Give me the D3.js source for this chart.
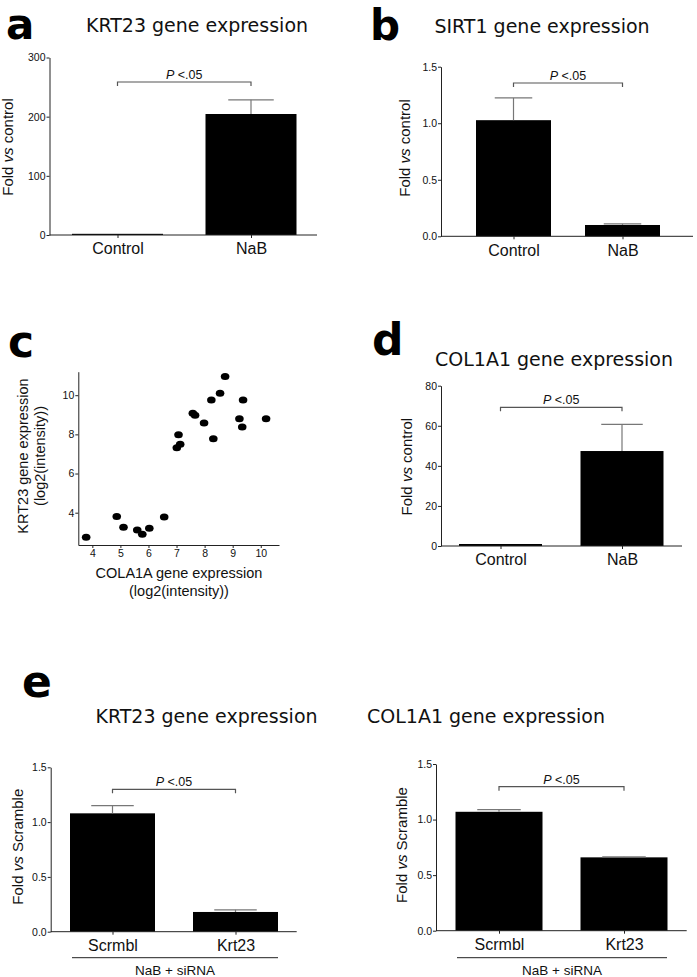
<!DOCTYPE html>
<html><head><meta charset="utf-8">
<script src="https://cdn.jsdelivr.net/npm/d3@7"></script>
<style>
html,body{margin:0;padding:0;background:#fff;}
svg text{font-family:"Liberation Sans",Arial,sans-serif;}
.title{font-family:"DejaVu Sans",Verdana,sans-serif !important;font-size:19px;fill:#111;}
.letter{font-family:"DejaVu Sans",Verdana,sans-serif !important;font-weight:bold;fill:#000;}
</style></head>
<body>
<svg id="fig" width="697" height="977"></svg>
<script>
// ---------- DATA ----------
const catsA = ["Control", "NaB"];
const valsA = [2, 204.5];
const errA = [0, 24];
const ticksA = [0, 100, 200, 300];

const catsB = ["Control", "NaB"];
const valsB = [1.027, 0.10];
const errB = [0.197, 0.01];
const ticksB = [0, 0.5, 1.0, 1.5];

const scatterX = [3.78, 4.87, 5.11, 5.60, 5.78, 6.03, 6.56, 7.01, 7.13, 7.07, 7.58, 7.66, 7.98, 8.31, 8.24, 8.55, 8.73, 9.24, 9.34, 9.37, 10.19];
const scatterY = [2.75, 3.80, 3.26, 3.12, 2.90, 3.21, 3.78, 7.32, 7.49, 7.98, 9.08, 8.97, 8.58, 7.78, 9.76, 10.10, 10.95, 8.80, 8.37, 9.76, 8.80];
const ticksCx = [4, 5, 6, 7, 8, 9, 10];
const ticksCy = [4, 6, 8, 10];

const catsD = ["Control", "NaB"];
const valsD = [1, 47.4];
const errD = [0, 13.3];
const ticksD = [0, 20, 40, 60, 80];

const catsE = ["Scrmbl", "Krt23"];
const valsE1 = [1.08, 0.18];
const errE1 = [0.07, 0.02];
const valsE2 = [1.07, 0.66];
const errE2 = [0.02, 0.005];
const ticksE = [0, 0.5, 1.0, 1.5];

// ---------- DRAW ----------
const svg = d3.select("#fig");
const AX = "#222", ERR = "#777", BR = "#555";

function barPanel(o) {
  const g = svg.append("g");
  const y = d3.scaleLinear().domain(o.domain).range([o.yBottom, o.yTop]);
  const x = d3.scalePoint().domain(o.cats).range(o.centers);
  // title
  g.append("text").attr("class", "title").attr("x", o.titleX).attr("y", o.titleY)
    .attr("text-anchor", "middle").text(o.title);
  // y axis
  const ya = g.append("g").attr("transform", `translate(${o.axisX},0)`)
    .call(d3.axisLeft(y).tickValues(o.ticks).tickSize(3).tickSizeOuter(0).tickPadding(1).tickFormat(o.fmt));
  ya.select(".domain").attr("stroke", AX);
  ya.selectAll(".tick line").attr("stroke", AX);
  ya.selectAll(".tick text").attr("font-size", 10.5).attr("fill", "#111").attr("font-family", "Liberation Sans");
  // bars
  const data = o.cats.map((c, i) => ({c, v: o.vals[i], e: o.errs[i]}));
  g.selectAll("rect.bar").data(data).enter().append("rect")
    .attr("x", d => x(d.c) - o.barW / 2).attr("width", o.barW)
    .attr("y", d => y(d.v)).attr("height", d => y(0) - y(d.v)).attr("fill", "#000");
  // error bars
  const eb = data.filter(d => d.e > 0);
  g.selectAll("line.ev").data(eb).enter().append("line")
    .attr("x1", d => x(d.c)).attr("x2", d => x(d.c)).attr("y1", d => y(d.v)).attr("y2", d => y(d.v + d.e))
    .attr("stroke", ERR).attr("stroke-width", 1.2);
  g.selectAll("line.ec").data(eb).enter().append("line")
    .attr("x1", d => x(d.c) - o.barW / 4).attr("x2", d => x(d.c) + o.barW / 4)
    .attr("y1", d => y(d.v + d.e)).attr("y2", d => y(d.v + d.e))
    .attr("stroke", ERR).attr("stroke-width", 1.2);
  // x axis
  g.append("line").attr("x1", o.axisX).attr("x2", o.xEnd).attr("y1", o.yBottom).attr("y2", o.yBottom)
    .attr("stroke", AX).attr("stroke-width", 1);
  const xa = g.append("g").attr("transform", `translate(0,${o.yBottom})`)
    .call(d3.axisBottom(x).tickSize(3).tickPadding(5));
  xa.select(".domain").remove();
  xa.selectAll(".tick line").attr("stroke", AX);
  xa.selectAll(".tick text").attr("font-size", 16).attr("fill", "#111").attr("font-family", "Liberation Sans");
  // bracket
  const [c0, c1] = o.cats.map(c => x(c));
  g.append("path").attr("d", `M${c0},${o.brY + 4}V${o.brY}H${c1}V${o.brY + 4}`)
    .attr("fill", "none").attr("stroke", BR).attr("stroke-width", 1.2);
  const pt = g.append("text").attr("x", (c0 + c1) / 2).attr("y", o.brY - 3)
    .attr("text-anchor", "middle").attr("font-size", 12.5).attr("fill", "#111");
  pt.append("tspan").attr("font-style", "italic").text("P");
  pt.append("tspan").text(" <.05");
  // y label
  const yl = g.append("text").attr("transform", `translate(${o.ylX},${o.ylY}) rotate(-90)`)
    .attr("text-anchor", "middle").attr("font-size", 15).attr("fill", "#111");
  yl.append("tspan").text("Fold ");
  yl.append("tspan").attr("font-style", "italic").text("vs");
  yl.append("tspan").text(" " + o.ylRest);
  // group underline
  if (o.group) {
    g.append("line").attr("x1", o.group.x1).attr("x2", o.group.x2).attr("y1", o.group.y).attr("y2", o.group.y)
      .attr("stroke", AX).attr("stroke-width", 1);
    g.append("text").attr("x", (o.group.x1 + o.group.x2) / 2).attr("y", o.group.y + 17)
      .attr("text-anchor", "middle").attr("font-size", 13.5).attr("fill", "#111").text(o.group.text);
  }
}

const f0 = d3.format("d"), f1 = d3.format(".1f");

barPanel({title: "KRT23 gene expression", titleX: 197, titleY: 32,
  cats: catsA, vals: valsA, errs: errA, ticks: ticksA, fmt: f0, domain: [0, 300],
  axisX: 49.5, xEnd: 317, yTop: 57.5, yBottom: 235, centers: [117.5, 251], barW: 91,
  brY: 82, ylX: 13, ylY: 147, ylRest: "control"});

barPanel({title: "SIRT1 gene expression", titleX: 542, titleY: 33,
  cats: catsB, vals: valsB, errs: errB, ticks: ticksB, fmt: f1, domain: [0, 1.5],
  axisX: 441, xEnd: 693, yTop: 66.7, yBottom: 236.3, centers: [513.5, 622.5], barW: 75,
  brY: 83, ylX: 410, ylY: 148, ylRest: "control"});

barPanel({title: "COL1A1 gene expression", titleX: 554, titleY: 366,
  cats: catsD, vals: valsD, errs: errD, ticks: ticksD, fmt: f0, domain: [0, 80],
  axisX: 441, xEnd: 682, yTop: 385.7, yBottom: 546, centers: [500.5, 622], barW: 83,
  brY: 407.3, ylX: 412, ylY: 466.7, ylRest: "control"});

barPanel({title: "KRT23 gene expression", titleX: 206.5, titleY: 723,
  cats: catsE, vals: valsE1, errs: errE1, ticks: ticksE, fmt: f1, domain: [0, 1.5],
  axisX: 50.7, xEnd: 296.7, yTop: 767.3, yBottom: 931.7, centers: [112.5, 235.5], barW: 85,
  brY: 789.3, ylX: 23, ylY: 846.7, ylRest: "Scramble",
  group: {x1: 72, x2: 278, y: 957.7, text: "NaB + siRNA"}});

barPanel({title: "COL1A1 gene expression", titleX: 486, titleY: 723,
  cats: catsE, vals: valsE2, errs: errE2, ticks: ticksE, fmt: f1, domain: [0, 1.5],
  axisX: 436, xEnd: 686.7, yTop: 764, yBottom: 930.7, centers: [499, 624], barW: 87,
  brY: 786.7, ylX: 407, ylY: 845, ylRest: "Scramble",
  group: {x1: 457, x2: 667, y: 957.7, text: "NaB + siRNA"}});

// scatter panel c
(function () {
  const g = svg.append("g");
  const x = d3.scaleLinear().domain([3.5, 10.65]).range([78.3, 279]);
  const y = d3.scaleLinear().domain([2.35, 11.2]).range([545, 371.7]);
  const ya = g.append("g").attr("transform", "translate(78.3,0)")
    .call(d3.axisLeft(y).tickValues(ticksCy).tickSize(3).tickSizeOuter(0).tickPadding(1));
  const xa = g.append("g").attr("transform", "translate(0,545)")
    .call(d3.axisBottom(x).tickValues(ticksCx).tickSize(3).tickSizeOuter(0).tickPadding(2));
  [ya, xa].forEach(a => {
    a.select(".domain").attr("stroke", AX);
    a.selectAll(".tick line").attr("stroke", AX);
    a.selectAll(".tick text").attr("font-size", 10.5).attr("fill", "#111").attr("font-family", "Liberation Sans");
  });
  g.selectAll("ellipse").data(scatterX.map((v, i) => [v, scatterY[i]])).enter().append("ellipse")
    .attr("cx", d => x(d[0])).attr("cy", d => y(d[1])).attr("rx", 4.3).attr("ry", 3.5).attr("fill", "#000");
  g.append("text").attr("x", 179).attr("y", 578).attr("text-anchor", "middle").attr("font-size", 14.5)
    .attr("fill", "#111").text("COLA1A gene expression");
  g.append("text").attr("x", 179).attr("y", 596).attr("text-anchor", "middle").attr("font-size", 14.5)
    .attr("fill", "#111").text("(log2(intensity))");
  g.append("text").attr("transform", "translate(28,456) rotate(-90)").attr("text-anchor", "middle")
    .attr("font-size", 14.5).attr("fill", "#111").text("KRT23 gene expression");
  g.append("text").attr("transform", "translate(45,456) rotate(-90)").attr("text-anchor", "middle")
    .attr("font-size", 14.5).attr("fill", "#111").text("(log2(intensity))");
})();

// panel letters
const letters = [["a", 6, 39, 42], ["b", 370, 40, 42], ["c", 8, 357, 44], ["d", 372, 355, 44], ["e", 22, 697, 44]];
svg.selectAll("text.letter").data(letters).enter().append("text").attr("class", "letter")
  .attr("x", d => d[1]).attr("y", d => d[2]).attr("font-size", d => d[3]).text(d => d[0]);
</script>
</body></html>
